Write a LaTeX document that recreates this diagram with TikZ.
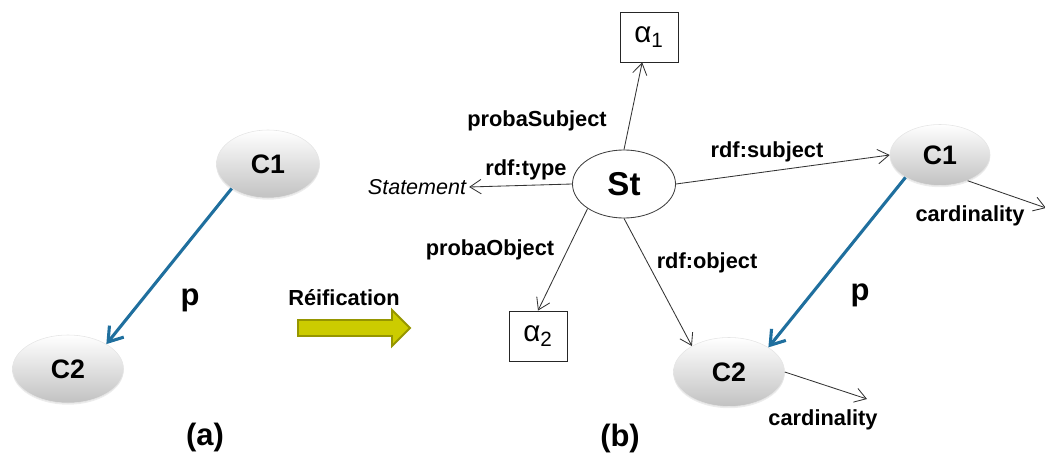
\documentclass[tikz,border=0pt]{standalone}
\usepackage{fontspec}
\setmainfont{Liberation Sans}
\usetikzlibrary{positioning,arrows.meta,shapes.geometric,shadows}
\definecolor{linkblue}{RGB}{31,111,158}
\definecolor{reiffill}{RGB}{204,204,0}
\definecolor{reifline}{RGB}{150,150,0}
\newcommand{\fsz}[1]{\fontsize{#1}{#1}\selectfont}

\begin{document}
\begin{tikzpicture}[x=0.025cm,y=-0.025cm,>={Straight Barb[length=2.8mm,width=3.6mm]},
  concept/.style={ellipse,inner sep=0pt,top color=white,bottom color=black!24,draw=black!10,
    drop shadow={opacity=0.15,shadow xshift=0pt,shadow yshift=-1.2pt},font=\fsz{19}\bfseries},
  stmtnode/.style={ellipse,draw=black!75,line width=0.6pt,fill=white,inner sep=0pt,
    minimum width=2.575cm,minimum height=1.7cm,font=\fsz{23.5}\bfseries},
  probabox/.style={draw=black!85,line width=0.6pt,fill=white,minimum width=1.45cm,
    minimum height=1.25cm,inner sep=0pt,font=\fsz{21}},
  lbl/.style={font=\fsz{15.5}\bfseries,inner sep=1pt},
  edge/.style={->,black!80,line width=0.6pt},
  plink/.style={-{Straight Barb[length=3.4mm,width=4.6mm]},linkblue,line width=2.2pt},
  big/.style={font=\fsz{22}\bfseries,inner sep=0pt}]
\useasboundingbox (0,0) rectangle (1045,460);
% ---- (a) the plain property ----
\node[concept,minimum width=2.575cm,minimum height=1.7cm] (c1a) at (268,164) {C1};
\node[concept,minimum width=2.775cm,minimum height=1.7cm] (c2a) at (68,369) {C2};
\draw[plink] (c1a.214) -- (c2a.33);
\node[big] (pa) at (190,300) {p};
\node[big] (capa) at (205,437) {(a)};
% ---- reification arrow ----
\node[lbl] (reif) at (344,298) {Réification};
\filldraw[fill=reiffill,draw=reifline,line width=1.4pt]
  (298,320) -- (392,320) -- (392,310) -- (410,328) -- (392,346) -- (392,336) -- (298,336) -- cycle;
% ---- (b) the statement ----
\node[stmtnode] (st) at (624,184) {St};
\node[probabox] (a1) at (649,37) {α\textsubscript{1}};
\node[probabox] (a2) at (538,336) {α\textsubscript{2}};
\node[font=\fsz{15.3}\itshape,inner sep=2pt] (stmt) at (417,187) {Statement};
\node[concept,minimum width=2.5cm,minimum height=1.525cm] (c1b) at (940,155) {C1};
\node[concept,minimum width=2.775cm,minimum height=1.725cm] (c2b) at (729,372) {C2};
\coordinate (card1) at (1046,208);
\coordinate (card2) at (867,399);
\draw[edge] (st.north) -- (a1.255);
\draw[edge] (st.west) -- (stmt.east);
\draw[edge] (st.214) -- (a2.north);
\draw[edge] (st.south) -- (c2b.145);
\draw[edge] (st.east) -- (c1b.west);
\draw[edge] (c1b.317) -- (card1);
\draw[edge] (c2b.east) -- (card2);
\draw[plink] (c1b.213) -- (c2b.32);
% ---- edge labels ----
\node[lbl] (lsubj) at (537,121) {probaSubject};
\node[lbl] (ltype) at (526,170) {rdf:type};
\node[lbl] (lobj) at (490,250) {probaObject};
\node[lbl] (rsubj) at (767,152) {rdf:subject};
\node[lbl] (robj) at (707,263) {rdf:object};
\node[lbl] (lcard1) at (970,216) {cardinality};
\node[lbl] (lcard2) at (823,420) {cardinality};
\node[big] (pb) at (860,295) {p};
\node[big] (capb) at (620,438) {(b)};
\end{tikzpicture}
\end{document}
